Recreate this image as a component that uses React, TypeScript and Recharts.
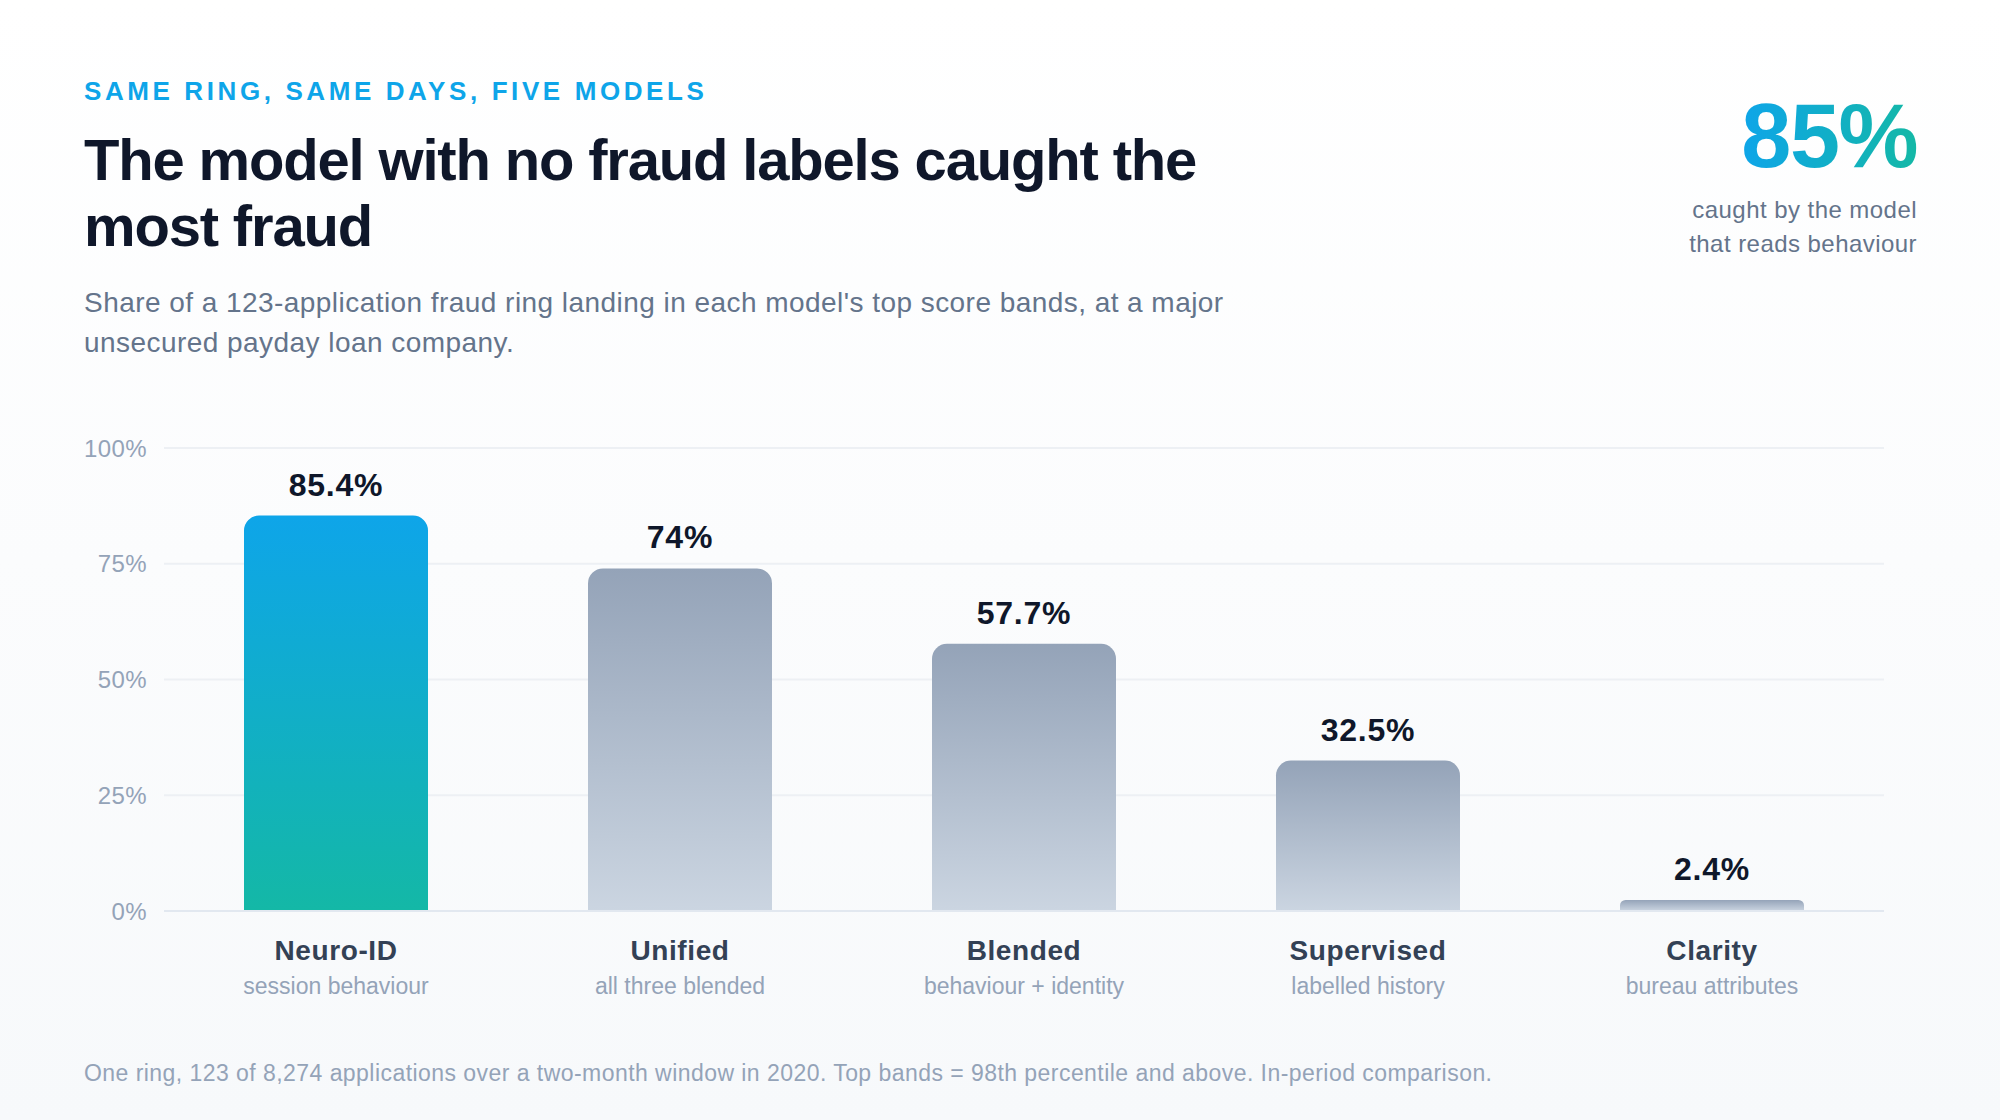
import React from 'react';
import { BarChart, Bar, XAxis, YAxis, CartesianGrid, Cell, LabelList } from 'recharts';

const FONT = "'Liberation Sans', Arial, Helvetica, sans-serif";

const models = ['Neuro-ID', 'Unified', 'Blended', 'Supervised', 'Clarity'];
const descriptors = ['session behaviour', 'all three blended', 'behaviour + identity', 'labelled history', 'bureau attributes'];
const caughtPct = [85.4, 74, 57.7, 32.5, 2.4];
const yTicks = [0, 25, 50, 75, 100];

const eyebrow = 'SAME RING, SAME DAYS, FIVE MODELS';
const titleLines = ['The model with no fraud labels caught the', 'most fraud'];
const subtitleLines = [
  "Share of a 123-application fraud ring landing in each model's top score bands, at a major",
  'unsecured payday loan company.',
];
const headlineStat = '85%';
const headlineCaption = ['caught by the model', 'that reads behaviour'];
const footnote =
  'One ring, 123 of 8,274 applications over a two-month window in 2020. Top bands = 98th percentile and above. In-period comparison.';

const data = models.map((m, i) => ({ model: m, caught: caughtPct[i] }));

const CategoryTick = (props: any) => {
  const { x, y, payload } = props;
  const idx = models.indexOf(payload.value);
  return (
    <g>
      <text
        x={x}
        y={y + 49}
        textAnchor="middle"
        fontSize={28}
        fontWeight={700}
        fill="#334155"
        fontFamily={FONT}
        style={{ letterSpacing: '0.6px' }}
      >
        {payload.value}
      </text>
      <text x={x} y={y + 83} textAnchor="middle" fontSize={23} fill="#94a3b8" fontFamily={FONT}>
        {descriptors[idx]}
      </text>
    </g>
  );
};

const ValueLabel = (props: any) => {
  const { x, y, width, value } = props;
  return (
    <text
      x={Number(x) + Number(width) / 2}
      y={Number(y) - 20}
      textAnchor="middle"
      fontSize={32}
      fontWeight={700}
      fill="#0f172a"
      fontFamily={FONT}
      style={{ letterSpacing: '0.8px' }}
    >
      {`${value}%`}
    </text>
  );
};

export default function App() {
  return (
    <div
      style={{
        position: 'absolute',
        left: 0,
        top: 0,
        width: 2000,
        height: 1120,
        overflow: 'hidden',
        background: 'linear-gradient(180deg, #ffffff 0%, #f7f9fb 100%)',
        fontFamily: FONT,
      }}
    >
      <BarChart
        width={2000}
        height={1120}
        data={data}
        margin={{ top: 448, right: 116, left: 84, bottom: 89 }}
        style={{ position: 'absolute', left: 0, top: 0, fontFamily: FONT }}
      >
        <defs>
          <linearGradient id="gTeal" x1="0" y1="0" x2="0" y2="1">
            <stop offset="0%" stopColor="#0ea5e9" />
            <stop offset="100%" stopColor="#14b8a6" />
          </linearGradient>
          <linearGradient id="gSlate" x1="0" y1="0" x2="0" y2="1">
            <stop offset="0%" stopColor="#94a3b8" />
            <stop offset="100%" stopColor="#cbd5e1" />
          </linearGradient>
        </defs>
        <CartesianGrid vertical={false} stroke="#edf0f4" strokeWidth={2} />
        <XAxis
          dataKey="model"
          height={120}
          tickSize={0}
          tickMargin={0}
          axisLine={{ stroke: '#e2e8f0', strokeWidth: 2 }}
          tickLine={false}
          tick={<CategoryTick />}
          interval={0}
        />
        <YAxis
          width={80}
          domain={[0, 100]}
          ticks={yTicks}
          tickFormatter={(v: number) => `${v}%`}
          axisLine={false}
          tickLine={false}
          tickSize={0}
          tickMargin={17}
          tick={{ fill: '#94a3b8', fontSize: 24, fontFamily: FONT, style: { letterSpacing: '0.4px' } }}
        />
        <Bar dataKey="caught" barSize={184} radius={[15, 15, 0, 0]} isAnimationActive={false}>
          {data.map((d, i) => (
            <Cell key={d.model} fill={i === 0 ? 'url(#gTeal)' : 'url(#gSlate)'} />
          ))}
          <LabelList dataKey="caught" content={<ValueLabel />} />
        </Bar>
      </BarChart>

      <div
        style={{
          position: 'absolute',
          left: 84,
          top: 76,
          fontSize: 26,
          lineHeight: '30px',
          fontWeight: 700,
          letterSpacing: '3.6px',
          color: '#0ea5e9',
          whiteSpace: 'nowrap',
        }}
      >
        {eyebrow}
      </div>

      <div
        style={{
          position: 'absolute',
          left: 84,
          top: 126.5,
          fontSize: 58,
          lineHeight: '66.7px',
          fontWeight: 700,
          letterSpacing: '-1.17px',
          color: '#0f172a',
          whiteSpace: 'nowrap',
        }}
      >
        {titleLines.map((l) => (
          <div key={l}>{l}</div>
        ))}
      </div>

      <div
        style={{
          position: 'absolute',
          left: 84,
          top: 282.7,
          fontSize: 28,
          lineHeight: '40.6px',
          letterSpacing: '0.45px',
          color: '#64748b',
          whiteSpace: 'nowrap',
        }}
      >
        {subtitleLines.map((l) => (
          <div key={l}>{l}</div>
        ))}
      </div>

      <div
        style={{
          position: 'absolute',
          right: 83,
          top: 91,
          fontSize: 90,
          lineHeight: '90px',
          fontWeight: 700,
          letterSpacing: '-1.5px',
          whiteSpace: 'nowrap',
          background: 'linear-gradient(90deg, #0ea5e9 0%, #14b8a6 100%)',
          WebkitBackgroundClip: 'text',
          backgroundClip: 'text',
          WebkitTextFillColor: 'transparent',
          color: 'transparent',
        }}
      >
        {headlineStat}
      </div>

      <div
        style={{
          position: 'absolute',
          right: 83,
          top: 193.3,
          fontSize: 24,
          lineHeight: '33.4px',
          letterSpacing: '0.45px',
          color: '#64748b',
          textAlign: 'right',
          whiteSpace: 'nowrap',
        }}
      >
        {headlineCaption.map((l) => (
          <div key={l}>{l}</div>
        ))}
      </div>

      <div
        style={{
          position: 'absolute',
          left: 84,
          top: 1060.4,
          fontSize: 23,
          lineHeight: '27px',
          letterSpacing: '0.45px',
          color: '#94a3b8',
          whiteSpace: 'nowrap',
        }}
      >
        {footnote}
      </div>
    </div>
  );
}
